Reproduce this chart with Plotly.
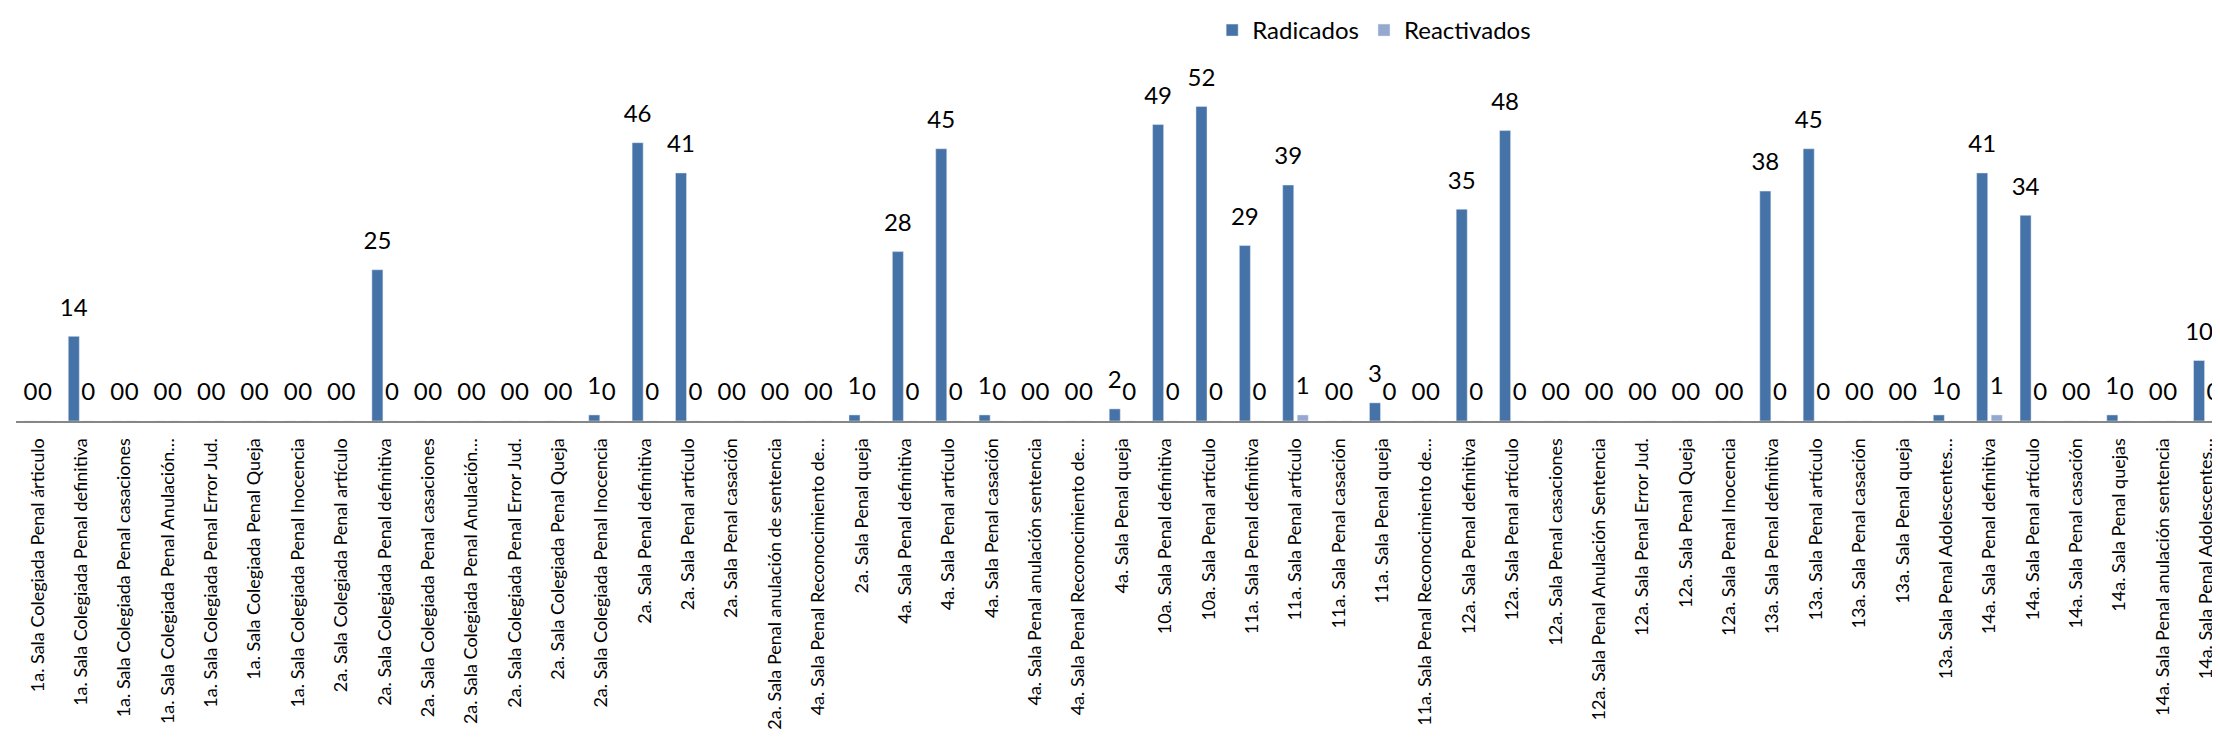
import plotly.graph_objects as go

categories = [
    "1a. Sala Colegiada Penal árticulo",
    "1a. Sala Colegiada Penal definitiva",
    "1a. Sala Colegiada Penal casaciones",
    "1a. Sala Colegiada Penal Anulación…",
    "1a. Sala Colegiada Penal Error Jud.",
    "1a. Sala Colegiada Penal Queja",
    "1a. Sala Colegiada Penal Inocencia",
    "2a. Sala Colegiada Penal artículo",
    "2a. Sala Colegiada Penal definitiva",
    "2a. Sala Colegiada Penal casaciones",
    "2a. Sala Colegiada Penal Anulación…",
    "2a. Sala Colegiada Penal Error Jud.",
    "2a. Sala Colegiada Penal Queja",
    "2a. Sala Colegiada Penal Inocencia",
    "2a. Sala Penal definitiva",
    "2a. Sala Penal artículo",
    "2a. Sala Penal casación",
    "2a. Sala Penal anulación de sentencia",
    "4a. Sala Penal Reconocimiento de…",
    "2a. Sala Penal queja",
    "4a. Sala Penal definitiva",
    "4a. Sala Penal artículo",
    "4a. Sala Penal casación",
    "4a. Sala Penal anulación sentencia",
    "4a. Sala Penal Reconocimiento de…",
    "4a. Sala Penal queja",
    "10a. Sala Penal definitiva",
    "10a. Sala Penal artículo",
    "11a. Sala Penal definitiva",
    "11a. Sala Penal artículo",
    "11a. Sala Penal casación",
    "11a. Sala Penal queja",
    "11a. Sala Penal Reconocimiento de…",
    "12a. Sala Penal definitiva",
    "12a. Sala Penal artículo",
    "12a. Sala Penal casaciones",
    "12a. Sala Penal Anulación Sentencia",
    "12a. Sala Penal Error Jud.",
    "12a. Sala Penal Queja",
    "12a. Sala Penal Inocencia",
    "13a. Sala Penal definitiva",
    "13a. Sala Penal artículo",
    "13a. Sala Penal casación",
    "13a. Sala Penal queja",
    "13a. Sala Penal Adolescentes…",
    "14a. Sala Penal definitiva",
    "14a. Sala Penal artículo",
    "14a. Sala Penal casación",
    "14a. Sala Penal quejas",
    "14a. Sala Penal anulación sentencia",
    "14a. Sala Penal Adolescentes…",
]

radicados = [0, 14, 0, 0, 0, 0, 0, 0, 25, 0, 0, 0, 0, 1, 46, 41, 0, 0, 0, 1,
             28, 45, 1, 0, 0, 2, 49, 52, 29, 39, 0, 3, 0, 35, 48, 0, 0, 0, 0, 0,
             38, 45, 0, 0, 1, 41, 34, 0, 1, 0, 10]
reactivados = [0, 0, 0, 0, 0, 0, 0, 0, 0, 0, 0, 0, 0, 0, 0, 0, 0, 0, 0, 0,
               0, 0, 0, 0, 0, 0, 0, 0, 0, 1, 0, 0, 0, 0, 0, 0, 0, 0, 0, 0,
               0, 0, 0, 0, 0, 1, 0, 0, 0, 0, 0]

series_names = ["Radicados", "Reactivados"]
series_colors = ["#4572A7", "#94A8D0"]

positions = list(range(len(categories)))

FONT = "Lato"
GAP = 0.33
fig = go.Figure()
for name, vals, col in zip(series_names, [radicados, reactivados], series_colors):
    fig.add_trace(go.Bar(
        name=name, x=positions, y=vals, marker_color=col, hoverinfo="skip",
    ))
# data labels: invisible markers grouped like the bars, text above them
for name, vals in zip(series_names, [radicados, reactivados]):
    fig.add_trace(go.Scatter(
        x=positions, y=vals, mode="markers+text", text=[str(v) for v in vals],
        textposition="top center", cliponaxis=False, showlegend=False,
        offsetgroup=name, alignmentgroup="labels",
        marker=dict(size=22, opacity=0, color="white"),
        textfont=dict(size=24, color="#000000", family=FONT), hoverinfo="skip",
    ))

fig.update_layout(
    width=2220, height=754,
    margin=dict(l=8, r=0, t=48, b=341),
    barmode="group", bargap=GAP, bargroupgap=0.24,
    scattermode="group", scattergap=GAP,
    plot_bgcolor="white", paper_bgcolor="white",
    font=dict(family=FONT, color="#000000"),
    legend=dict(orientation="h", x=0.614, xanchor="center", y=1.077, yanchor="middle",
                font=dict(size=24, family=FONT), itemwidth=30),
    showlegend=True,
)
fig.update_xaxes(
    range=[-0.5, len(categories) - 0.5],
    tickmode="array", tickvals=positions, ticktext=categories,
    tickangle=-90, tickfont=dict(size=18, family=FONT),
    showline=True, linecolor="#868686", linewidth=2,
    ticks="", showgrid=False, zeroline=False, ticklabelstandoff=8,
)
fig.update_yaxes(range=[0, 60], visible=False, showgrid=False, zeroline=False)

fig.write_html("out.html")
